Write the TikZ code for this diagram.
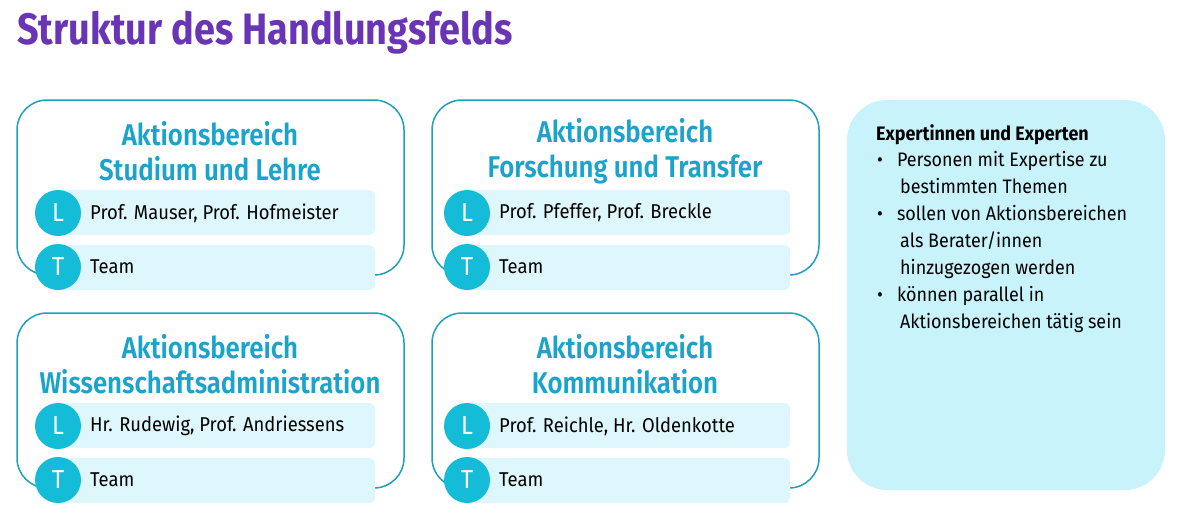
\documentclass[tikz,border=0pt]{standalone}
\usepackage{fontspec}
\setmainfont{Fira Sans}[FakeStretch=0.92]
\newfontfamily\hfont{Fira Sans SemiBold}[FakeStretch=0.86]
\newfontfamily\tfont{Fira Sans Bold}[FakeStretch=0.86]
\definecolor{ttl}{HTML}{6A35B5}
\definecolor{hd}{HTML}{1AA3CC}
\definecolor{bd}{HTML}{1D9FC0}
\definecolor{cf}{HTML}{14BCD8}
\definecolor{rf}{HTML}{DDF7FD}
\definecolor{pf}{HTML}{C9F3FB}
\begin{document}
\begin{tikzpicture}[x=1pt,y=-1pt,
  abox/.style={draw=bd,line width=1.5pt,rounded corners=30pt},
  row/.style={fill=rf,rounded corners=6pt},
  circ/.style={circle,fill=cf,minimum size=46pt,inner sep=0pt,text=white,font=\fontsize{26}{26}\selectfont},
  rtext/.style={anchor=west,font=\fontsize{20}{20}\selectfont,inner sep=0pt},
  head/.style={align=center,text=hd,font=\hfont\fontsize{30}{35}\selectfont}]
\useasboundingbox (0,0) rectangle (1186,530);
\node[anchor=west,text=ttl,font=\tfont\fontsize{44}{44}\selectfont,inner sep=0pt] (title) at (17,33) {Struktur des Handlungsfelds};
\foreach \n/\x/\y/\h/\l/\xa in {a/17/100/{Aktionsbereich\\Studium und Lehre}/{Prof. Mauser, Prof. Hofmeister}/58,
  b/432/100/{Aktionsbereich\\Forschung und Transfer}/{Prof. Pfeffer, Prof. Breckle}/467,
  c/17/313/{Aktionsbereich\\Wissenschaftsadministration}/{Hr. Rudewig, Prof. Andriessens}/58,
  d/432/313/{Aktionsbereich\\Kommunikation}/{Prof. Reichle, Hr. Oldenkotte}/467}{
  \draw[abox] (\x,\y) rectangle ++(387,175);
  \node[head] (h\n) at (\x+193,\y+51) {\h};
  \fill[row] (\xa,\y+90) rectangle (\x+358,\y+135);
  \fill[row] (\xa,\y+145) rectangle (\x+358,\y+190);
  \node[circ] (l\n) at (\xa,\y+113) {L};
  \node[circ] (t\n) at (\xa,\y+167) {T};
  \node[rtext] (lt\n) at (\xa+32,\y+113) {\l};
  \node[rtext] (tt\n) at (\xa+32,\y+167) {Team};
}
\fill[pf,rounded corners=40pt] (847,100) rectangle (1165,490);
\node[anchor=north west,inner sep=0pt,font=\fontsize{19.5}{26.9}\selectfont,align=left] (ex) at (876,124) {%
\textbf{Expertinnen und Experten}\\
\hspace{1pt}\textbullet\hspace{14pt}Personen mit Expertise zu\\
\hspace{24pt}bestimmten Themen\\
\hspace{1pt}\textbullet\hspace{14pt}sollen von Aktionsbereichen\\
\hspace{24pt}als Berater/innen\\
\hspace{24pt}hinzugezogen werden\\
\hspace{1pt}\textbullet\hspace{14pt}können parallel in\\
\hspace{24pt}Aktionsbereichen tätig sein};
\end{tikzpicture}
\end{document}
